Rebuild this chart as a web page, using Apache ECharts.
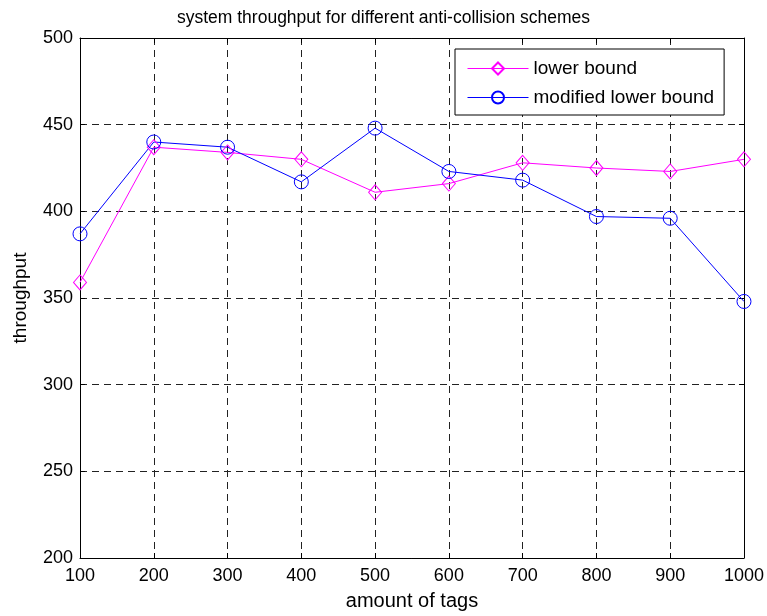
<!DOCTYPE html>
<html>
<head>
<meta charset="utf-8">
<script src="https://cdn.jsdelivr.net/npm/echarts@6/dist/echarts.min.js"></script>
<style>
  html, body { margin: 0; padding: 0; background: #fff; }
  #main { width: 767px; height: 616px; }
</style>
</head>
<body>
<div id="main"></div>
<script>
var tags = [100, 200, 300, 400, 500, 600, 700, 800, 900, 1000];
var lowerBound = [359, 437, 434, 430, 411, 416, 428, 425, 423, 430];
var modifiedLowerBound = [387, 440, 437, 417, 448, 423, 418, 397, 396, 348];

var chartDom = document.getElementById('main');
var myChart = echarts.init(chartDom);
var font = 'Liberation Sans, Arial, sans-serif';

function pairs(xs, ys) {
  return xs.map(function (x, i) { return [x, ys[i]]; });
}

var dashed = { show: true, lineStyle: { color: '#222', type: [7, 5], width: 1 } };

var option = {
  backgroundColor: '#fff',
  animation: false,
  title: {
    text: 'system throughput for different anti-collision schemes',
    left: 'center',
    top: 4,
    textStyle: { fontFamily: font, fontSize: 17.5, fontWeight: 'normal', color: '#000' }
  },
  legend: {
    orient: 'vertical',
    left: 455,
    top: 49,
    padding: [10, 10, 8, 12],
    itemGap: 10,
    itemWidth: 61,
    itemHeight: 15,
    itemTextGap: 7,
    borderColor: '#000',
    borderWidth: 1,
    backgroundColor: '#fff',
    lineStyle: { width: 1 },
    textStyle: { fontFamily: font, fontSize: 19, color: '#000' },
    data: ['lower bound', 'modified lower bound']
  },
  grid: { left: 80, right: 22, top: 38, bottom: 55 },
  xAxis: [
    {
      type: 'value', min: 100, max: 1000, interval: 100,
      name: 'amount of tags', nameLocation: 'middle', nameGap: 33,
      nameTextStyle: { fontFamily: font, fontSize: 20, color: '#000' },
      axisLine: { lineStyle: { color: '#000' } },
      axisTick: { inside: true, length: 5, lineStyle: { color: '#000' } },
      axisLabel: { fontFamily: font, fontSize: 18, color: '#000', margin: 9,
        formatter: function (v) { return String(v); } },
      splitLine: dashed
    },
    {
      type: 'value', position: 'top', min: 100, max: 1000, interval: 100,
      axisLine: { lineStyle: { color: '#000' } },
      axisTick: { inside: true, length: 5, lineStyle: { color: '#000' } },
      axisLabel: { show: false },
      splitLine: { show: false }
    }
  ],
  yAxis: [
    {
      type: 'value', min: 200, max: 500, interval: 50,
      name: 'throughput', nameLocation: 'middle', nameGap: 50,
      nameTextStyle: { fontFamily: font, fontSize: 19, color: '#000' },
      axisLine: { show: true, lineStyle: { color: '#000' } },
      axisTick: { show: true, inside: true, length: 5, lineStyle: { color: '#000' } },
      axisLabel: { fontFamily: font, fontSize: 18, color: '#000', margin: 7 },
      splitLine: dashed
    },
    {
      type: 'value', position: 'right', min: 200, max: 500, interval: 50,
      axisLine: { show: true, lineStyle: { color: '#000' } },
      axisTick: { show: true, inside: true, length: 5, lineStyle: { color: '#000' } },
      axisLabel: { show: false },
      splitLine: { show: false }
    }
  ],
  series: [
    {
      name: 'lower bound',
      type: 'line',
      data: pairs(tags, lowerBound),
      symbol: 'diamond',
      symbolSize: [13, 15],
      lineStyle: { color: '#ff00ff', width: 1 },
      itemStyle: { color: 'rgba(0,0,0,0)', borderColor: '#ff00ff', borderWidth: 1 }
    },
    {
      name: 'modified lower bound',
      type: 'line',
      data: pairs(tags, modifiedLowerBound),
      symbol: 'circle',
      symbolSize: 14,
      lineStyle: { color: '#0000ff', width: 1 },
      itemStyle: { color: 'rgba(0,0,0,0)', borderColor: '#0000ff', borderWidth: 1 }
    }
  ]
};

option && myChart.setOption(option);
</script>
</body>
</html>
